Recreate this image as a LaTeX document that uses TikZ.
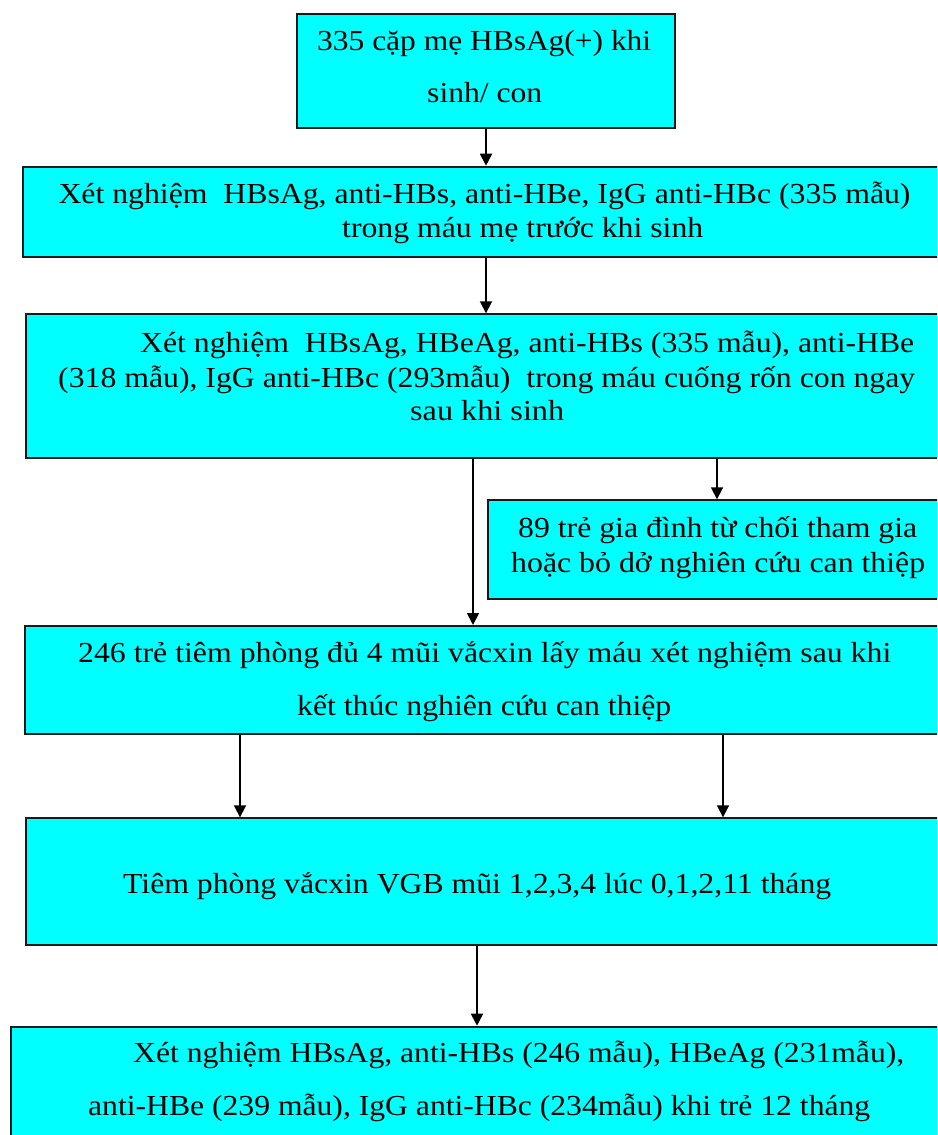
\documentclass[tikz,border=0pt]{standalone}
\usepackage{fontspec}
\setmainfont{Liberation Serif}
\usetikzlibrary{arrows.meta}
\definecolor{boxfill}{HTML}{00FFFF}
\definecolor{boxline}{HTML}{1A1A1A}
\newcommand{\fitw}[2]{\resizebox{#1pt}{\height}{#2}}
\tikzset{
  box/.style={draw=boxline, line width=2pt, fill=boxfill, rectangle, inner sep=0pt, anchor=north west},
  txt/.style={anchor=base west, inner sep=0pt, font=\fontsize{29}{34}\selectfont},
  arr/.style={draw=black, line width=1.8pt, -{Triangle[length=12pt,width=12pt]}},
}
\begin{document}
\begin{tikzpicture}[x=1pt,y=-1pt]
\useasboundingbox (0,0) rectangle (937,1135);
\fill[white] (0,0) rectangle (937,1135);
\clip (0,0) rectangle (937,1135);
% boxes
\node[box, minimum width=378.3pt, minimum height=113.7pt] (b1) at (295.9,13.3) {};
\node[box, minimum width=940pt, minimum height=90.3pt] (b2) at (22.1,165.7) {};
\node[box, minimum width=940pt, minimum height=144pt] (b3) at (25.3,313.3) {};
\node[box, minimum width=480pt, minimum height=98.4pt] (b4) at (487,499.3) {};
\node[box, minimum width=940pt, minimum height=107.7pt] (b5) at (24,625) {};
\node[box, minimum width=940pt, minimum height=126.4pt] (b6) at (25,817.3) {};
\node[box, minimum width=960pt, minimum height=140pt] (b7) at (9.6,1025.7) {};
% texts
\node[txt] (t1a) at (317,50) {\fitw{334}{335 cặp mẹ HBsAg(+) khi}};
\node[txt] (t1b) at (427,102) {\fitw{115}{sinh/ con}};
\node[txt] (t2a) at (58.3,203) {\fitw{852}{Xét nghiệm\ \ HBsAg, anti-HBs, anti-HBe, IgG anti-HBc (335 mẫu)}};
\node[txt] (t2b) at (342,237) {\fitw{361}{trong máu mẹ trước khi sinh}};
\node[txt] (t3a) at (140,352) {\fitw{774}{Xét nghiệm\ \ HBsAg, HBeAg, anti-HBs (335 mẫu), anti-HBe}};
\node[txt] (t3b) at (58,387) {\fitw{857}{(318 mẫu), IgG anti-HBc (293mẫu)\ \ trong máu cuống rốn con ngay}};
\node[txt] (t3c) at (410,420) {\fitw{154}{sau khi sinh}};
\node[txt] (t4a) at (518,537) {\fitw{399}{89 trẻ gia đình từ chối tham gia}};
\node[txt] (t4b) at (511,572) {\fitw{414}{hoặc bỏ dở nghiên cứu can thiệp}};
\node[txt] (t5a) at (78,662) {\fitw{813}{246 trẻ tiêm phòng đủ 4 mũi vắcxin lấy máu xét nghiệm sau khi}};
\node[txt] (t5b) at (297,715) {\fitw{374}{kết thúc nghiên cứu can thiệp}};
\node[txt] (t6) at (123,893) {\fitw{708}{Tiêm phòng vắcxin VGB mũi 1,2,3,4 lúc 0,1,2,11 tháng}};
\node[txt] (t7a) at (133,1062) {\fitw{771}{Xét nghiệm HBsAg, anti-HBs (246 mẫu), HBeAg (231mẫu),}};
\node[txt] (t7b) at (88,1115) {\fitw{782}{anti-HBe (239 mẫu), IgG anti-HBc (234mẫu) khi trẻ 12 tháng}};
% arrow columns
\coordinate (ax1) at (486,0);
\coordinate (ax3) at (473,0);
\coordinate (ax4) at (717,0);
\coordinate (ax5) at (240,0);
\coordinate (ax6) at (723,0);
\coordinate (ax7) at (477,0);
% connectors
\draw[arr] (b1.south -| ax1) -- (b2.north -| ax1);
\draw[arr] (b2.south -| ax1) -- (b3.north -| ax1);
\draw[arr] (b3.south -| ax3) -- (b5.north -| ax3);
\draw[arr] (b3.south -| ax4) -- (b4.north -| ax4);
\draw[arr] (b5.south -| ax5) -- (b6.north -| ax5);
\draw[arr] (b5.south -| ax6) -- (b6.north -| ax6);
\draw[arr] (b6.south -| ax7) -- (b7.north -| ax7);
\end{tikzpicture}
\end{document}
